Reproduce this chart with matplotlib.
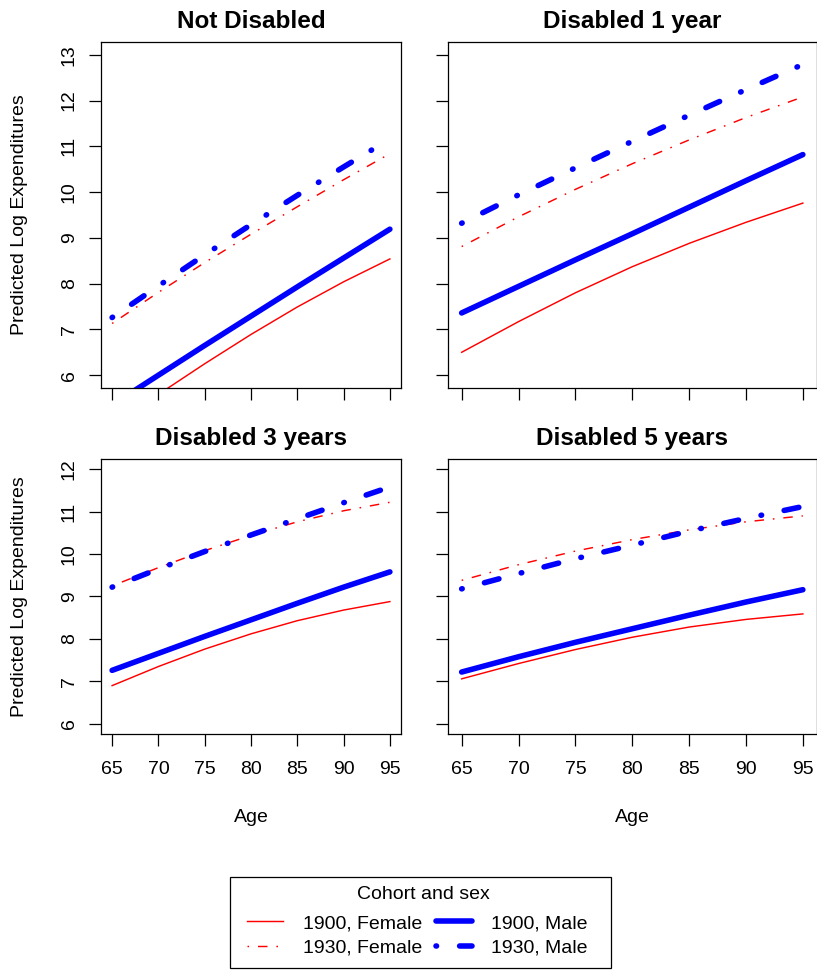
import matplotlib
matplotlib.use("Agg")
import matplotlib.pyplot as plt
from matplotlib.patches import Rectangle

plt.rcParams['font.family'] = ['Liberation Sans', 'DejaVu Sans']

# ages at which the predicted curves are read
ages = [65, 70, 75, 80, 85, 90, 95]

# Not Disabled
nd_f1900 = [4.88, 5.58, 6.25, 6.89, 7.49, 8.04, 8.54]
nd_f1930 = [7.13, 7.81, 8.46, 9.08, 9.68, 10.27, 10.84]
nd_m1900 = [5.35, 6.00, 6.65, 7.29, 7.93, 8.56, 9.19]
nd_m1930 = [7.26, 7.95, 8.63, 9.29, 9.93, 10.55, 11.16]

# Disabled 1 year
d1_f1900 = [6.50, 7.17, 7.80, 8.37, 8.88, 9.34, 9.76]
d1_f1930 = [8.81, 9.46, 10.06, 10.62, 11.14, 11.63, 12.08]
d1_m1900 = [7.36, 7.94, 8.52, 9.09, 9.67, 10.25, 10.82]
d1_m1930 = [9.32, 9.94, 10.53, 11.11, 11.68, 12.24, 12.79]

# Disabled 3 years
d3_f1900 = [6.90, 7.35, 7.76, 8.12, 8.43, 8.68, 8.88]
d3_f1930 = [9.25, 9.68, 10.08, 10.44, 10.76, 11.02, 11.22]
d3_m1900 = [7.26, 7.66, 8.06, 8.45, 8.84, 9.22, 9.58]
d3_m1930 = [9.22, 9.65, 10.06, 10.45, 10.83, 11.21, 11.58]

# Disabled 5 years
d5_f1900 = [7.06, 7.42, 7.75, 8.04, 8.28, 8.46, 8.59]
d5_f1930 = [9.38, 9.75, 10.07, 10.34, 10.57, 10.76, 10.90]
d5_m1900 = [7.22, 7.58, 7.92, 8.24, 8.56, 8.87, 9.16]
d5_m1930 = [9.18, 9.54, 9.89, 10.21, 10.54, 10.84, 11.12]

titles = ['Not Disabled', 'Disabled 1 year', 'Disabled 3 years', 'Disabled 5 years']
series = [
    (nd_f1900, nd_f1930, nd_m1900, nd_m1930),
    (d1_f1900, d1_f1930, d1_m1900, d1_m1930),
    (d3_f1900, d3_f1930, d3_m1900, d3_m1930),
    (d5_f1900, d5_f1930, d5_m1900, d5_m1930),
]
labels = ['1900, Female', '1930, Female', '1900, Male', '1930, Male']

W, H = 817, 972
fig = plt.figure(figsize=(W / 100, H / 100), dpi=100)


def px_axes(left, top, right, bottom):
    return fig.add_axes([left / W, 1 - bottom / H, (right - left) / W, (bottom - top) / H])


axes = [
    px_axes(101, 42, 401, 388),
    px_axes(448, 42, 816.5, 388),
    px_axes(101, 459, 401, 734),
    px_axes(448, 459, 816.5, 734),
]

handles = []
for i, ax in enumerate(axes):
    f1900, f1930, m1900, m1930 = series[i]
    l1, = ax.plot(ages, f1900, color='red', lw=1.05)
    l2, = ax.plot(ages, f1930, color='red', lw=1.05, dashes=(1.1, 6.1, 6.5, 6.1))
    l3, = ax.plot(ages, m1900, color='blue', lw=4.0, solid_capstyle='round')
    l4, = ax.plot(ages, m1930, color='blue', lw=4.0, dashes=(0.1, 4.15, 2.7, 4.15),
                  dash_capstyle='round')
    if i == 0:
        handles = [l1, l2, l3, l4]

    ax.set_xlim(65 - 1.2, 95 + 1.2)
    if i < 2:
        ax.set_ylim(6 - 0.28, 13 + 0.28)
        ax.set_yticks(range(6, 14))
    else:
        ax.set_ylim(6 - 0.24, 12 + 0.24)
        ax.set_yticks(range(6, 13))
    ax.set_xticks(range(65, 96, 5))
    ax.tick_params(direction='out', length=8.6, width=0.9, labelsize=14, pad=11)
    ax.tick_params(axis='y', labelrotation=90, pad=8)
    for lab in ax.get_yticklabels():
        lab.set_va('center')
    for s in ax.spines.values():
        s.set_linewidth(0.9)
    if i < 2:
        ax.tick_params(axis='x', labelbottom=False)
    if i % 2 == 1:
        ax.tick_params(axis='y', labelleft=False)
    ax.set_title(titles[i], fontsize=17.5, fontweight='bold', pad=10)

# axis labels
fig.text(20 / W, 1 - 215 / H, 'Predicted Log Expenditures', rotation=90,
         ha='center', va='center', fontsize=14)
fig.text(20 / W, 1 - 596.5 / H, 'Predicted Log Expenditures', rotation=90,
         ha='center', va='center', fontsize=14)
fig.text(251 / W, 1 - 817 / H, 'Age', ha='center', va='center', fontsize=14)
fig.text(632 / W, 1 - 817 / H, 'Age', ha='center', va='center', fontsize=14)

# legend
fig.text(423 / W, 1 - 894 / H, 'Cohort and sex', ha='center', va='center', fontsize=14)
fig.legend(handles, labels,
           ncol=2, fontsize=14,
           loc='center', bbox_to_anchor=(417.5 / W, 1 - 935.5 / H),
           frameon=False, handlelength=1.85, handletextpad=1.0,
           columnspacing=0.7, labelspacing=0.34, borderpad=0.1)
fig.patches.append(Rectangle((230 / W, 1 - 968 / H), 381 / W, 91 / H,
                             transform=fig.transFigure, fill=False,
                             edgecolor='black', lw=0.9))

fig.savefig('out.png', dpi=100)
